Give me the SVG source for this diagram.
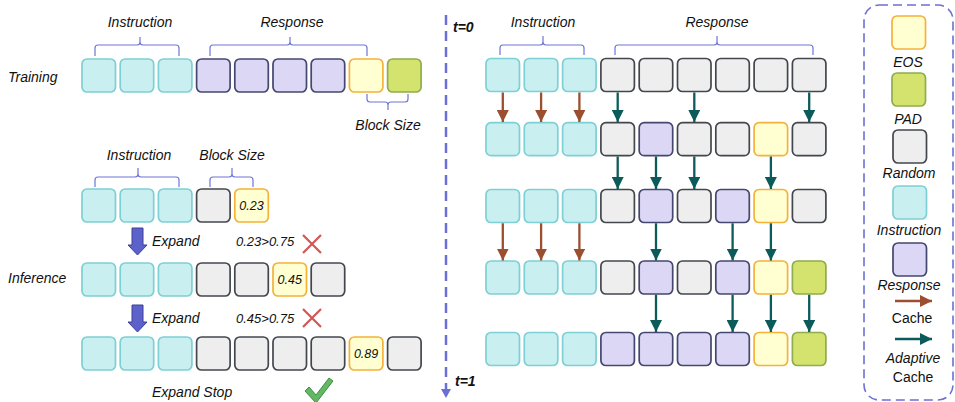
<svg xmlns="http://www.w3.org/2000/svg" width="955" height="402" viewBox="0 0 955 402">
<style>
text{font-family:"Liberation Sans",Arial,sans-serif;font-style:italic;font-size:14px;fill:#111}
.c{text-anchor:middle}
.n{font-size:12.5px}
.up{font-style:normal}
.b{font-weight:bold}
rect.k{stroke-width:1.7}
.ins{fill:#c9eff1;stroke:#7dd0d3}
.res{fill:#dcd7f4;stroke:#44476f}
.eos{fill:#ffffd2;stroke:#f6b13a}
.pad{fill:#d3e36e;stroke:#8fac4e}
.rnd{fill:#eeeeee;stroke:#43474d}
.brace{fill:none;stroke:#6e76d6;stroke-width:1.2}
.ca{stroke:#9b4f30;stroke-width:2.3;fill:none}
.ad{stroke:#0b5b5b;stroke-width:2.3;fill:none}
.exp{fill:#5c62c9;stroke:#3b3f9a;stroke-width:1}
.x{stroke:#d35555;stroke-width:2.2;fill:none}
</style>
<defs>
<rect id="bx" class="k" width="33.5" height="33" rx="5"/>
<marker id="mca" markerUnits="userSpaceOnUse" markerWidth="12" markerHeight="12" viewBox="0 0 10 10" refX="10" refY="5" orient="auto"><path d="M0,0 L10,5 L0,10 Z" fill="#9b4f30"/></marker>
<marker id="mad" markerUnits="userSpaceOnUse" markerWidth="12" markerHeight="12" viewBox="0 0 10 10" refX="10" refY="5" orient="auto"><path d="M0,0 L10,5 L0,10 Z" fill="#0b5b5b"/></marker>
</defs>

<!-- LEFT: training -->
<text x="8" y="81.5">Training</text>
<text class="c" x="140" y="26.5">Instruction</text>
<text class="c" x="292" y="26.5">Response</text>
<path class="brace" d="M95,56 V48 Q95,45 98,45 H137 Q140,45 140,42 V37 M140,42 Q140,45 143,45 H176 Q179,45 179,48 V56"/>
<path class="brace" d="M210,56 V48 Q210,45 213,45 H287 Q290,45 290,42 V37 M290,42 Q290,45 293,45 H364 Q367,45 367,48 V56"/>
<path class="brace" d="M367,94 V99 Q367,102 370,102 H385 Q388,102 388,105 V110 M388,105 Q388,102 391,102 H405 Q408,102 408,99 V94"/>
<text class="c" x="388" y="129.5">Block Size</text>
<g id="tr-0"><use href="#bx" class="ins" x="82" y="59"/></g>
<g id="tr-1"><use href="#bx" class="ins" x="120.2" y="59"/></g>
<g id="tr-2"><use href="#bx" class="ins" x="158.4" y="59"/></g>
<g id="tr-3"><use href="#bx" class="res" x="196.6" y="59"/></g>
<g id="tr-4"><use href="#bx" class="res" x="234.8" y="59"/></g>
<g id="tr-5"><use href="#bx" class="res" x="273" y="59"/></g>
<g id="tr-6"><use href="#bx" class="res" x="311.2" y="59"/></g>
<g id="tr-7"><use href="#bx" class="eos" x="349.4" y="59"/></g>
<g id="tr-8"><use href="#bx" class="pad" x="387.6" y="59"/></g>

<!-- LEFT: inference -->
<text class="c" x="139" y="159.5">Instruction</text>
<text class="c" x="232" y="159.5">Block Size</text>
<path class="brace" d="M95,187 V180 Q95,177 98,177 H135 Q138,177 138,174 V168 M138,174 Q138,177 141,177 H176 Q179,177 179,180 V187"/>
<path class="brace" d="M210,187 V180 Q210,177 213,177 H229 Q232,177 232,174 V168 M232,174 Q232,177 235,177 H250 Q253,177 253,180 V187"/>
<g id="in1-0"><use href="#bx" class="ins" x="82" y="189"/></g>
<g id="in1-1"><use href="#bx" class="ins" x="120.2" y="189"/></g>
<g id="in1-2"><use href="#bx" class="ins" x="158.4" y="189"/></g>
<g id="in1-3"><use href="#bx" class="rnd" x="196.6" y="189"/></g>
<g id="in1-4"><use href="#bx" class="eos" x="234.8" y="189"/><text class="c n" x="251.5" y="210">0.23</text></g>

<polygon class="exp" points="132,228 143,228 143,245 147,245 137.5,255 128,245 132,245"/>
<text x="152" y="245.5">Expand</text>
<text x="236" y="245.5" style="font-size:13px">0.23&gt;0.75</text>
<path class="x" d="M303,235 L321,253 M321,235 L303,253"/>

<text x="8" y="282.5">Inference</text>
<g id="in2-0"><use href="#bx" class="ins" x="82" y="263"/></g>
<g id="in2-1"><use href="#bx" class="ins" x="120.2" y="263"/></g>
<g id="in2-2"><use href="#bx" class="ins" x="158.4" y="263"/></g>
<g id="in2-3"><use href="#bx" class="rnd" x="196.6" y="263"/></g>
<g id="in2-4"><use href="#bx" class="rnd" x="234.8" y="263"/></g>
<g id="in2-5"><use href="#bx" class="eos" x="273" y="263"/><text class="c n" x="289.7" y="284">0.45</text></g>
<g id="in2-6"><use href="#bx" class="rnd" x="311.2" y="263"/></g>

<polygon class="exp" points="132,305 143,305 143,322 147,322 137.5,332 128,322 132,322"/>
<text x="152" y="322.5">Expand</text>
<text x="236" y="322.5" style="font-size:13px">0.45&gt;0.75</text>
<path class="x" d="M303,309 L321,327 M321,309 L303,327"/>

<g id="in3-0"><use href="#bx" class="ins" x="82" y="337"/></g>
<g id="in3-1"><use href="#bx" class="ins" x="120.2" y="337"/></g>
<g id="in3-2"><use href="#bx" class="ins" x="158.4" y="337"/></g>
<g id="in3-3"><use href="#bx" class="rnd" x="196.6" y="337"/></g>
<g id="in3-4"><use href="#bx" class="rnd" x="234.8" y="337"/></g>
<g id="in3-5"><use href="#bx" class="rnd" x="273" y="337"/></g>
<g id="in3-6"><use href="#bx" class="rnd" x="311.2" y="337"/></g>
<g id="in3-7"><use href="#bx" class="eos" x="349.4" y="337"/><text class="c n" x="366.1" y="358">0.89</text></g>
<g id="in3-8"><use href="#bx" class="rnd" x="387.6" y="337"/></g>

<text x="152" y="396.5">Expand Stop</text>
<polygon points="305,391 309,387 316,395 329,378 333,381 316,403" fill="#62b863" stroke="#3f8c42" stroke-width="1"/>

<!-- RIGHT: timeline -->
<line x1="446" y1="15" x2="446" y2="390" stroke="#6b70d4" stroke-width="2.5" stroke-dasharray="10 6"/>
<polygon points="441,389 451,389 446,398" fill="#6b70d4"/>
<text class="b" x="453" y="32">t=0</text>
<text class="b" x="455" y="386">t=1</text>

<text class="c" x="543" y="26.5">Instruction</text>
<text class="c" x="717" y="26.5">Response</text>
<path class="brace" d="M500,55 V48 Q500,45 503,45 H540 Q543,45 543,42 V36 M543,42 Q543,45 546,45 H581 Q584,45 584,48 V55"/>
<path class="brace" d="M615,55 V48 Q615,45 618,45 H714 Q717,45 717,42 V36 M717,42 Q717,45 720,45 H810 Q813,45 813,48 V55"/>

<!-- row 1 -->
<g id="r1-0"><use href="#bx" class="ins" x="486" y="58.5"/></g>
<g id="r1-1"><use href="#bx" class="ins" x="524.3" y="58.5"/></g>
<g id="r1-2"><use href="#bx" class="ins" x="562.6" y="58.5"/></g>
<g id="r1-3"><use href="#bx" class="rnd" x="600.9" y="58.5"/></g>
<g id="r1-4"><use href="#bx" class="rnd" x="639.2" y="58.5"/></g>
<g id="r1-5"><use href="#bx" class="rnd" x="677.5" y="58.5"/></g>
<g id="r1-6"><use href="#bx" class="rnd" x="715.8" y="58.5"/></g>
<g id="r1-7"><use href="#bx" class="rnd" x="754.1" y="58.5"/></g>
<g id="r1-8"><use href="#bx" class="rnd" x="792.4" y="58.5"/></g>
<!-- row 2 -->
<g id="r2-0"><use href="#bx" class="ins" x="486" y="122.7"/></g>
<g id="r2-1"><use href="#bx" class="ins" x="524.3" y="122.7"/></g>
<g id="r2-2"><use href="#bx" class="ins" x="562.6" y="122.7"/></g>
<g id="r2-3"><use href="#bx" class="rnd" x="600.9" y="122.7"/></g>
<g id="r2-4"><use href="#bx" class="res" x="639.2" y="122.7"/></g>
<g id="r2-5"><use href="#bx" class="rnd" x="677.5" y="122.7"/></g>
<g id="r2-6"><use href="#bx" class="rnd" x="715.8" y="122.7"/></g>
<g id="r2-7"><use href="#bx" class="eos" x="754.1" y="122.7"/></g>
<g id="r2-8"><use href="#bx" class="rnd" x="792.4" y="122.7"/></g>
<!-- row 3 -->
<g id="r3-0"><use href="#bx" class="ins" x="486" y="189.5"/></g>
<g id="r3-1"><use href="#bx" class="ins" x="524.3" y="189.5"/></g>
<g id="r3-2"><use href="#bx" class="ins" x="562.6" y="189.5"/></g>
<g id="r3-3"><use href="#bx" class="rnd" x="600.9" y="189.5"/></g>
<g id="r3-4"><use href="#bx" class="res" x="639.2" y="189.5"/></g>
<g id="r3-5"><use href="#bx" class="rnd" x="677.5" y="189.5"/></g>
<g id="r3-6"><use href="#bx" class="res" x="715.8" y="189.5"/></g>
<g id="r3-7"><use href="#bx" class="eos" x="754.1" y="189.5"/></g>
<g id="r3-8"><use href="#bx" class="rnd" x="792.4" y="189.5"/></g>
<!-- row 4 -->
<g id="r4-0"><use href="#bx" class="ins" x="486" y="261"/></g>
<g id="r4-1"><use href="#bx" class="ins" x="524.3" y="261"/></g>
<g id="r4-2"><use href="#bx" class="ins" x="562.6" y="261"/></g>
<g id="r4-3"><use href="#bx" class="rnd" x="600.9" y="261"/></g>
<g id="r4-4"><use href="#bx" class="res" x="639.2" y="261"/></g>
<g id="r4-5"><use href="#bx" class="rnd" x="677.5" y="261"/></g>
<g id="r4-6"><use href="#bx" class="res" x="715.8" y="261"/></g>
<g id="r4-7"><use href="#bx" class="eos" x="754.1" y="261"/></g>
<g id="r4-8"><use href="#bx" class="pad" x="792.4" y="261"/></g>
<!-- row 5 -->
<g id="r5-0"><use href="#bx" class="ins" x="486" y="332.5"/></g>
<g id="r5-1"><use href="#bx" class="ins" x="524.3" y="332.5"/></g>
<g id="r5-2"><use href="#bx" class="ins" x="562.6" y="332.5"/></g>
<g id="r5-3"><use href="#bx" class="res" x="600.9" y="332.5"/></g>
<g id="r5-4"><use href="#bx" class="res" x="639.2" y="332.5"/></g>
<g id="r5-5"><use href="#bx" class="res" x="677.5" y="332.5"/></g>
<g id="r5-6"><use href="#bx" class="res" x="715.8" y="332.5"/></g>
<g id="r5-7"><use href="#bx" class="eos" x="754.1" y="332.5"/></g>
<g id="r5-8"><use href="#bx" class="pad" x="792.4" y="332.5"/></g>

<!-- connectors -->
<g id="connectors">
<line class="ca" marker-end="url(#mca)" x1="502.8" y1="92.5" x2="502.8" y2="122"/>
<line class="ca" marker-end="url(#mca)" x1="541.1" y1="92.5" x2="541.1" y2="122"/>
<line class="ca" marker-end="url(#mca)" x1="579.4" y1="92.5" x2="579.4" y2="122"/>
<line class="ad" marker-end="url(#mad)" x1="617.7" y1="92.5" x2="617.7" y2="122"/>
<line class="ad" marker-end="url(#mad)" x1="694.3" y1="92.5" x2="694.3" y2="122"/>
<line class="ad" marker-end="url(#mad)" x1="809.2" y1="92.5" x2="809.2" y2="122"/>

<line class="ad" marker-end="url(#mad)" x1="617.7" y1="156.5" x2="617.7" y2="189"/>
<line class="ad" marker-end="url(#mad)" x1="656" y1="156.5" x2="656" y2="189"/>
<line class="ad" marker-end="url(#mad)" x1="694.3" y1="156.5" x2="694.3" y2="189"/>
<line class="ad" marker-end="url(#mad)" x1="770.9" y1="156.5" x2="770.9" y2="189"/>

<line class="ca" marker-end="url(#mca)" x1="502.8" y1="223.3" x2="502.8" y2="260.5"/>
<line class="ca" marker-end="url(#mca)" x1="541.1" y1="223.3" x2="541.1" y2="260.5"/>
<line class="ca" marker-end="url(#mca)" x1="579.4" y1="223.3" x2="579.4" y2="260.5"/>
<line class="ad" marker-end="url(#mad)" x1="656" y1="223.3" x2="656" y2="260.5"/>
<line class="ad" marker-end="url(#mad)" x1="732.6" y1="223.3" x2="732.6" y2="260.5"/>
<line class="ad" marker-end="url(#mad)" x1="770.9" y1="223.3" x2="770.9" y2="260.5"/>

<line class="ad" marker-end="url(#mad)" x1="656" y1="294.8" x2="656" y2="332"/>
<line class="ad" marker-end="url(#mad)" x1="732.6" y1="294.8" x2="732.6" y2="332"/>
<line class="ad" marker-end="url(#mad)" x1="770.9" y1="294.8" x2="770.9" y2="332"/>
<line class="ad" marker-end="url(#mad)" x1="809.2" y1="294.8" x2="809.2" y2="332"/>
</g>

<!-- legend -->
<g id="legend">
<rect x="864" y="5" width="89" height="395" rx="15" fill="none" stroke="#6b70d4" stroke-width="1.6" stroke-dasharray="9 5"/>
<g id="lg-eos"><use href="#bx" class="eos" x="892" y="16"/><text class="c" x="908" y="66.5">EOS</text></g>
<g id="lg-pad"><use href="#bx" class="pad" x="892" y="73"/><text class="c" x="908" y="123.5">PAD</text></g>
<g id="lg-rnd"><use href="#bx" class="rnd" x="893" y="130"/><text class="c" x="909" y="177.5">Random</text></g>
<g id="lg-ins"><use href="#bx" class="ins" x="893" y="186"/><text class="c" x="909" y="234.5">Instruction</text></g>
<g id="lg-res"><use href="#bx" class="res" x="893" y="243"/><text class="c" x="909" y="289.5">Response</text></g>
<g id="lg-cache"><line class="ca" marker-end="url(#mca)" x1="895" y1="301" x2="932" y2="301"/><text class="c up" x="912" y="322.5">Cache</text></g>
<g id="lg-adaptive"><line class="ad" marker-end="url(#mad)" x1="895" y1="339" x2="932" y2="339"/><text class="c" x="913" y="362.5">Adaptive</text><text class="c up" x="913" y="381.5">Cache</text></g>
</g>
</svg>
